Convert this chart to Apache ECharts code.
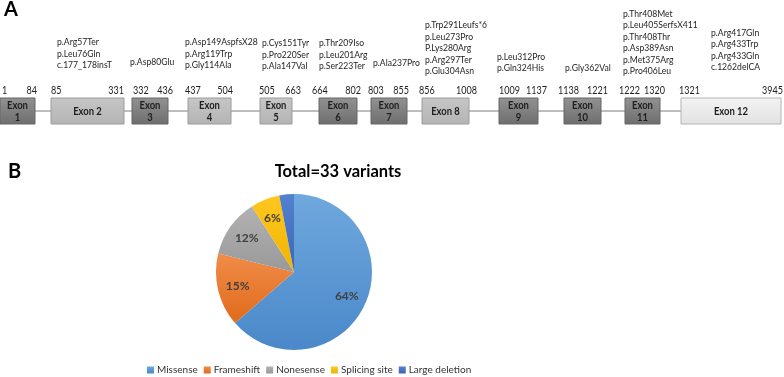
<!DOCTYPE html>
<html lang="en">
<head>
<meta charset="UTF-8">
<title>Exon map and variant types</title>
<script src="https://cdn.jsdelivr.net/npm/echarts@6/dist/echarts.min.js"></script>
<style type="text/css">
	html, body { margin: 0; padding: 0; background: #fff; }
	#main { width: 784px; height: 377px; }
</style>
</head>
<body>
<div id="main"></div>
<script type="text/javascript">
	// exon data
	var exonNames = ['Exon\n1', 'Exon 2', 'Exon\n3', 'Exon\n4', 'Exon\n5', 'Exon\n6', 'Exon\n7', 'Exon 8', 'Exon\n9', 'Exon\n10', 'Exon\n11', 'Exon 12'];
	var exonStart = [1, 85, 332, 437, 505, 664, 803, 856, 1009, 1138, 1222, 1321];
	var exonEnd = [84, 331, 436, 504, 663, 802, 855, 1008, 1137, 1221, 1320, 3945];
	var exonVariants = [
		[],
		['p.Arg57Ter', 'p.Leu76Gln', 'c.177_178insT'],
		['p.Asp80Glu'],
		['p.Asp149AspfsX28', 'p.Arg119Trp', 'p.Gly114Ala'],
		['p.Cys151Tyr', 'p.Pro220Ser', 'p.Ala147Val'],
		['p.Thr209Iso', 'p.Leu201Arg', 'p.Ser223Ter'],
		['p.Ala237Pro'],
		['p.Trp291Leufs*6', 'p.Leu273Pro', 'P.Lys280Arg', 'p.Arg297Ter', 'p.Glu304Asn'],
		['p.Leu312Pro', 'p.Gln324His'],
		['p.Gly362Val'],
		['p.Thr408Met', 'p.Leu405SerfsX411', 'p.Thr408Thr', 'p.Asp389Asn', 'p.Met375Arg', 'p.Pro406Leu'],
		['p.Arg417Gln', 'p.Arg433Trp', 'p.Arg433Gln', 'c.1262delCA']
	];

	// variant type data
	var typeNames = ['Missense', 'Frameshift', 'Nonesense', 'Splicing site', 'Large deletion'];
	var typeCounts = [21, 5, 4, 2, 1];
	var totalVariants = 33;

	// schematic layout of the track (not to scale)
	var boxLeft = [0, 51, 132, 188, 260, 319, 371, 422, 499, 564, 625, 681];
	var boxRight = [35, 124, 168, 231, 292, 357, 407, 469, 538, 601, 660, 781];
	var boxTone = [2, 1, 2, 1, 1, 2, 2, 1, 2, 2, 2, 0];
	var startLabelX = [2, 51, 133, 185, 259, 312, 368, 419, 499, 558, 619, 679];
	var endLabelX = [37, 124, 173, 233, 301, 361, 409, 477, 547, 608, 665, 783];
	var variantX = [0, 57, 130, 185, 262, 319, 373, 425, 497, 565, 623, 711];
	var variantY = [0, 65, 62, 65, 66, 66, 63, 71, 68, 68, 71, 67];

	var FONT = 'Lato, "Open Sans", sans-serif';
	var tones = [
		{ top: '#f3f3f3', bottom: '#e2e2e2', border: '#b4b4b4' },
		{ top: '#c6c6c6', bottom: '#b4b4b4', border: '#9c9c9c' },
		{ top: '#929292', bottom: '#6e6e6e', border: '#666666' }
	];
	var typeColors = [
		['#6fa8de', '#4a88c9'],
		['#f08c48', '#e06b1c'],
		['#b2b2b2', '#999999'],
		['#ffc71f', '#f0b400'],
		['#5282d0', '#3b65b5']
	];

	function grad(c) {
		return new echarts.graphic.LinearGradient(0, 0, 0, 1, [
			{ offset: 0, color: c[0] }, { offset: 1, color: c[1] }
		]);
	}

	// narrow text: Lato squeezed a little to get Calibri-like widths
	function narrowText(x, y, text, align, vAlign, font, squeeze, lineHeight) {
		return {
			type: 'text', x: x, y: y, scaleX: squeeze,
			style: {
				text: text, x: 0, y: 0, textAlign: align, textVerticalAlign: vAlign,
				font: font, fill: '#1e1e1e', lineHeight: lineHeight
			}
		};
	}

	function renderExon(params, api) {
		var i = api.value(0);
		var tl = api.coord([boxLeft[i], 1]);
		var br = api.coord([boxRight[i], 0]);
		var t = tones[boxTone[i]];
		var children = [
			{
				type: 'rect',
				shape: { x: tl[0], y: tl[1], width: br[0] - tl[0], height: br[1] - tl[1] },
				style: {
					fill: new echarts.graphic.LinearGradient(0, 0, 0, 1, [
						{ offset: 0, color: t.top }, { offset: 1, color: t.bottom }
					]),
					stroke: t.border, lineWidth: 1
				}
			},
			narrowText((tl[0] + br[0]) / 2, (tl[1] + br[1]) / 2 + 1, exonNames[i], 'center', 'middle', 'bold 10.5px ' + FONT, 0.9, 12),
			narrowText(api.coord([startLabelX[i], 0])[0], tl[1] - 7, String(exonStart[i]), 'left', 'middle', '10.5px ' + FONT, 0.86, 12),
			narrowText(api.coord([endLabelX[i], 0])[0], tl[1] - 7, String(exonEnd[i]), 'right', 'middle', '10.5px ' + FONT, 0.86, 12)
		];
		if (exonVariants[i].length) {
			children.push(narrowText(api.coord([variantX[i], 0])[0], variantY[i] + 6,
				exonVariants[i].join('\n'), 'left', 'bottom', '10px ' + FONT, 0.86, 11.5));
		}
		return { type: 'group', children: children };
	}

	var exonData = exonNames.map(function (n, i) { return [i]; });

	var pieData = typeNames.map(function (n, i) {
		return { name: n, value: typeCounts[i], itemStyle: { color: grad(typeColors[i]) } };
	});
	var pieLabelData = typeNames.map(function (n, i) {
		return { name: n, value: typeCounts[i] };
	});

	var chart = echarts.init(document.getElementById('main'));
	chart.setOption({
		animation: false,
		textStyle: { fontFamily: FONT },
		graphic: [
			{ type: 'text', left: 4, top: 0, style: { text: 'A', font: 'bold 20px ' + FONT, fill: '#000' } },
			{ type: 'text', left: 8, top: 162, style: { text: 'B', font: 'bold 20px ' + FONT, fill: '#000' } },
			{ type: 'text', x: 338, y: 172, style: { text: 'Total=' + totalVariants + ' variants', textAlign: 'center', textVerticalAlign: 'middle', font: 'bold 16.5px ' + FONT, fill: '#000' } }
		],
		grid: { left: 0, top: 98, width: 784, height: 26 },
		xAxis: { type: 'value', min: 0, max: 784, show: false },
		yAxis: { type: 'value', min: 0, max: 1, show: false },
		legend: {
			data: typeNames,
			left: 147, top: 365, padding: 0,
			icon: 'rect', itemWidth: 7, itemHeight: 7, itemGap: 6,
			textStyle: { fontSize: 10, color: '#333', fontFamily: FONT, padding: [0, 0, 0, -2] },
			selectedMode: false
		},
		series: [
			{
				type: 'line',
				data: [[boxRight[0], 0.5], [boxLeft[11], 0.5]],
				symbol: 'none', silent: true, z: 1,
				lineStyle: { color: '#a9a9a9', width: 1.5 }
			},
			{
				type: 'custom',
				renderItem: renderExon,
				data: exonData,
				clip: false, silent: true, z: 2
			},
			{
				name: 'types',
				type: 'pie',
				center: [294, 272], radius: 78,
				startAngle: 90, clockwise: true,
				data: pieData,
				label: { show: false },
				labelLine: { show: false },
				itemStyle: { borderWidth: 0 },
				silent: true
			},
			{
				name: 'labels',
				type: 'pie',
				center: [294, 272], radius: [32, 78],
				startAngle: 90, clockwise: true,
				data: pieLabelData,
				itemStyle: { color: 'rgba(0,0,0,0)' },
				label: {
					show: true, position: 'inside',
					formatter: function (p) { return Math.round(p.percent) + '%'; },
					fontSize: 12, fontWeight: 'bold', color: '#404040', fontFamily: FONT
				},
				labelLine: { show: false },
				silent: true, z: 3
			}
		]
	});
</script>
</body>
</html>
